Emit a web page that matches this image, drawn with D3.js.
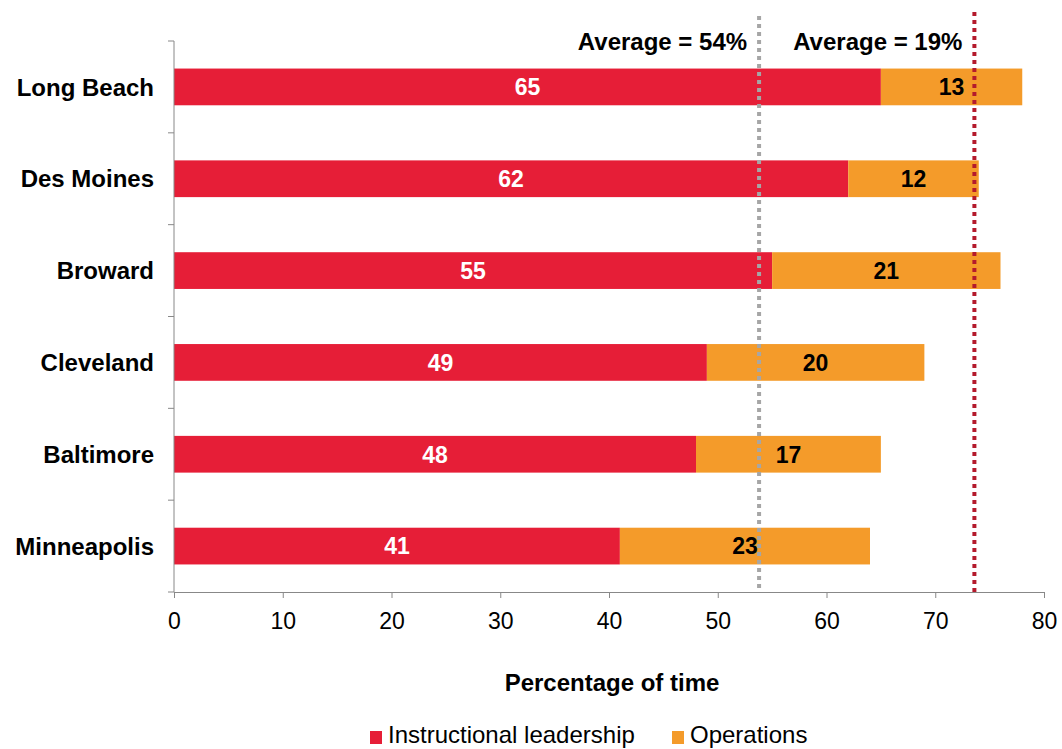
<!DOCTYPE html>
<html><head><meta charset="utf-8">
<script src="https://cdn.jsdelivr.net/npm/d3@7"></script>
<style>body{margin:0;background:#fff;}svg{display:block;font-family:"Liberation Sans",Arial,sans-serif;}</style>
</head><body><svg id="c" width="1062" height="749"></svg>
<script>
const categories = ["Long Beach","Des Moines","Broward","Cleveland","Baltimore","Minneapolis"];
const instructional = [65,62,55,49,48,41];
const operations = [13,12,21,20,17,23];
const seriesNames = ["Instructional leadership","Operations"];
const xTicks = [0,10,20,30,40,50,60,70,80];
const averages = [{label:"Average = 54%", value:53.8},{label:"Average = 19%", value:73.6}];

const RED="#E61E37", ORANGE="#F49B2A", GRAY="#A6A6A6", DARKRED="#B41A2C";
const FS=23, FL=24;
const svg=d3.select("#c");
const m={l:174,r:1044,t:41,b:592};
const x=d3.scaleLinear().domain([0,80]).range([m.l,m.r]);
const y=d3.scaleBand().domain(categories).range([m.t,m.b]).paddingInner(0.6).paddingOuter(0.3);

const data=categories.map((c,i)=>({c,a:instructional[i],b:operations[i]}));

// bars
svg.append("g").selectAll("rect").data(data).join("rect")
  .attr("x",d=>x(0)).attr("y",d=>y(d.c)).attr("width",d=>x(d.a)-x(0)).attr("height",y.bandwidth()).attr("fill",RED);
svg.append("g").selectAll("rect").data(data).join("rect")
  .attr("x",d=>x(d.a)).attr("y",d=>y(d.c)).attr("width",d=>x(d.a+d.b)-x(d.a)).attr("height",y.bandwidth()).attr("fill",ORANGE);

// value labels
svg.append("g").selectAll("text").data(data).join("text")
  .attr("x",d=>x(d.a/2)).attr("y",d=>y(d.c)+y.bandwidth()/2).attr("dy","0.36em")
  .attr("text-anchor","middle").attr("font-size",FS).attr("font-weight","bold").attr("fill","#fff").text(d=>d.a);
svg.append("g").selectAll("text").data(data).join("text")
  .attr("x",d=>x(d.a+d.b/2)).attr("y",d=>y(d.c)+y.bandwidth()/2).attr("dy","0.36em")
  .attr("text-anchor","middle").attr("font-size",FS).attr("font-weight","bold").attr("fill","#000").text(d=>d.b);

// axes
const gx=svg.append("g").attr("transform",`translate(0,${m.b})`)
  .call(d3.axisBottom(x).tickValues(xTicks).tickSize(6).tickPadding(0).tickSizeOuter(0));
gx.selectAll("path,line").attr("stroke","#888");
gx.selectAll("text").attr("font-size",FS).attr("fill","#000").attr("dy",null).attr("y",37)
  .attr("font-family","Liberation Sans, Arial, sans-serif");

const gy=svg.append("g").attr("transform",`translate(${m.l},0)`);
gy.append("line").attr("x1",0).attr("x2",0).attr("y1",m.t).attr("y2",m.b).attr("stroke","#888");
const bounds=d3.range(categories.length+1).map(i=>m.t+(m.b-m.t)*i/categories.length);
gy.selectAll("line.t").data(bounds).join("line").attr("class","t")
  .attr("x1",-6).attr("x2",0).attr("y1",d=>d).attr("y2",d=>d).attr("stroke","#888");
gy.selectAll("text").data(categories).join("text")
  .attr("x",-20).attr("y",d=>y(d)+y.bandwidth()/2).attr("dy","0.36em").attr("text-anchor","end")
  .attr("font-size",FL).attr("font-weight","bold").attr("fill","#000").text(d=>d);

// average lines
svg.append("line").attr("x1",x(averages[0].value)).attr("x2",x(averages[0].value)).attr("y1",16).attr("y2",m.b)
  .attr("stroke",GRAY).attr("stroke-width",4).attr("stroke-dasharray","4,4");
svg.append("line").attr("x1",x(averages[1].value)).attr("x2",x(averages[1].value)).attr("y1",12).attr("y2",m.b)
  .attr("stroke",DARKRED).attr("stroke-width",4).attr("stroke-dasharray","4,4");
svg.selectAll("text.avg").data(averages).join("text").attr("class","avg")
  .attr("x",d=>x(d.value)-12).attr("y",50).attr("text-anchor","end")
  .attr("font-size",FL).attr("font-weight","bold").attr("fill","#000").text(d=>d.label);

// axis title
svg.append("text").attr("x",612).attr("y",691).attr("text-anchor","middle")
  .attr("font-size",FL).attr("font-weight","bold").text("Percentage of time");

// legend
const leg=[{n:seriesNames[0],c:RED,x:370},{n:seriesNames[1],c:ORANGE,x:672}];
const lg=svg.append("g");
lg.selectAll("rect").data(leg).join("rect").attr("x",d=>d.x).attr("y",731).attr("width",12).attr("height",13).attr("fill",d=>d.c);
lg.selectAll("text").data(leg).join("text").attr("x",d=>d.x+18).attr("y",743)
  .attr("font-size",FL).attr("fill","#000").text(d=>d.n);
</script></body></html>
